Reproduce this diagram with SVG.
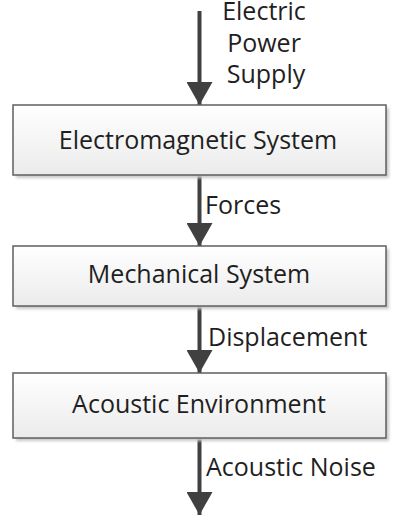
<svg xmlns="http://www.w3.org/2000/svg" width="401" height="523" viewBox="0 0 401 523">
  <defs>
    <linearGradient id="boxfill" x1="0" y1="0" x2="0" y2="1">
      <stop offset="0" stop-color="#ffffff"/>
      <stop offset="1" stop-color="#ebebeb"/>
    </linearGradient>
    <filter id="shadow" x="-10%" y="-20%" width="120%" height="140%">
      <feGaussianBlur stdDeviation="1.5"/>
    </filter>
    <marker id="arrow" viewBox="0 0 23 26" refX="23" refY="13" markerWidth="23" markerHeight="26" markerUnits="userSpaceOnUse" orient="auto">
      <path d="M0,0 L23,13 L0,26 Z" fill="#404040"/>
    </marker>
  </defs>
  <style>
    .box { fill: url(#boxfill); stroke: #5f5f5f; stroke-width: 1.5; }
    .shadow { fill: #c8c8c8; filter: url(#shadow); }
    .label { font-family: "Open Sans", "Liberation Sans", sans-serif; font-size: 25px; fill: #1f1f1f; }
    .center { text-anchor: middle; }
    .conn { stroke: #404040; stroke-width: 4; fill: none; marker-end: url(#arrow); }
  </style>

  <g id="connectors">
    <line class="conn" x1="199.5" y1="11" x2="199.5" y2="105"/>
    <line class="conn" x1="199.5" y1="175" x2="199.5" y2="246"/>
    <line class="conn" x1="199.5" y1="306" x2="199.5" y2="373"/>
    <line class="conn" x1="199.5" y1="438" x2="199.5" y2="515"/>
    <text class="label center" x="264" y="20">Electric</text>
    <text class="label center" x="264" y="51.5">Power</text>
    <text class="label center" x="266" y="83">Supply</text>
    <text class="label" x="205" y="214">Forces</text>
    <text class="label" x="208" y="346">Displacement</text>
    <text class="label" x="206" y="476">Acoustic Noise</text>
  </g>

  <g id="electromagnetic-system">
    <rect class="shadow" x="16" y="108" width="373" height="70"/>
    <rect class="box" x="13" y="105" width="373" height="70"/>
    <text class="label center" x="198" y="149">Electromagnetic System</text>
  </g>

  <g id="mechanical-system">
    <rect class="shadow" x="16" y="249" width="373" height="60"/>
    <rect class="box" x="13" y="246" width="373" height="60"/>
    <text class="label center" x="199" y="283">Mechanical System</text>
  </g>

  <g id="acoustic-environment">
    <rect class="shadow" x="16" y="376" width="373" height="65"/>
    <rect class="box" x="13" y="373" width="373" height="65"/>
    <text class="label center" x="199" y="413">Acoustic Environment</text>
  </g>
</svg>
